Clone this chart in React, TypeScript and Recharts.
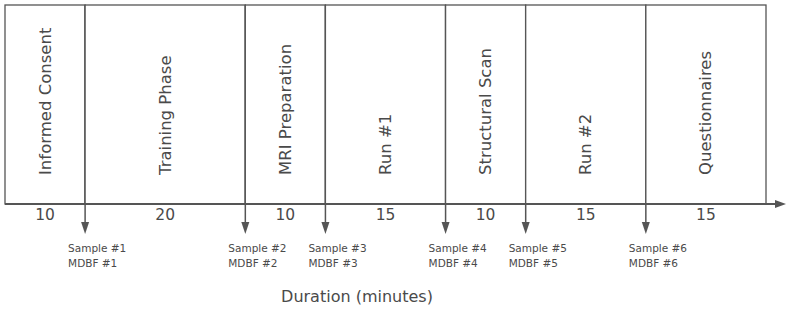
import { Bar, BarChart, XAxis, YAxis } from "recharts";

// session timeline: each phase is one stacked segment, length = minutes
const phases = [
  "Informed Consent",
  "Training Phase",
  "MRI Preparation",
  "Run #1",
  "Structural Scan",
  "Run #2",
  "Questionnaires",
];
const durations = [10, 20, 10, 15, 10, 15, 15];
const sampleLabels = ["Sample #1", "Sample #2", "Sample #3", "Sample #4", "Sample #5", "Sample #6"];
const mdbfLabels = ["MDBF #1", "MDBF #2", "MDBF #3", "MDBF #4", "MDBF #5", "MDBF #6"];

const row: Record<string, string | number> = { name: "session" };
durations.forEach((d, i) => {
  row[`p${i}`] = d;
});
const data = [row];
const total = durations.reduce((a, b) => a + b, 0);

const LINE = "#555555";
const TEXT = "#4a4a4a";
const FONT = "'DejaVu Sans', Verdana, sans-serif";

const makeShape = (i: number) => (props: any) => {
  const { x, y, width, height } = props;
  const cx = x + width / 2;
  const bottom = y + height;
  const right = x + width;
  const ly = bottom - 29; // labels read upward from near the bottom
  const last = i === phases.length - 1;
  return (
    <g>
      <rect x={x} y={y} width={width} height={height} fill="#fff" stroke={LINE} strokeWidth={1.3} />
      <text
        x={cx}
        y={ly}
        transform={`rotate(-90, ${cx}, ${ly})`}
        textAnchor="start"
        dominantBaseline="central"
        fontFamily={FONT}
        fontSize={16.5}
        fill={TEXT}
      >
        {phases[i]}
      </text>
      <line x1={x} y1={bottom} x2={right} y2={bottom} stroke={LINE} strokeWidth={2} />
      <text x={cx} y={bottom + 16} textAnchor="middle" fontFamily={FONT} fontSize={15.5} fill={TEXT}>
        {durations[i]}
      </text>
      {!last && (
        <g>
          <line x1={right} y1={y} x2={right} y2={bottom + 22} stroke={LINE} strokeWidth={1.5} />
          <polygon
            points={`${right - 4},${bottom + 18} ${right + 4},${bottom + 18} ${right},${bottom + 30}`}
            fill={LINE}
          />
          <text x={right - 17} y={bottom + 48} fontFamily={FONT} fontSize={10.5} fill={TEXT}>
            {sampleLabels[i]}
          </text>
          <text x={right - 17} y={bottom + 63} fontFamily={FONT} fontSize={10.5} fill={TEXT}>
            {mdbfLabels[i]}
          </text>
        </g>
      )}
      {last && (
        <g>
          <line x1={right} y1={bottom} x2={right + 12} y2={bottom} stroke={LINE} strokeWidth={2} />
          <polygon
            points={`${right + 9},${bottom - 4} ${right + 20},${bottom} ${right + 9},${bottom + 4}`}
            fill={LINE}
          />
        </g>
      )}
    </g>
  );
};

const App = () => {
  return (
    <div style={{ position: "absolute", left: 0, top: 0 }}>
      <BarChart
        width={787}
        height={309}
        data={data}
        layout="vertical"
        barCategoryGap={0}
        barGap={0}
        margin={{ top: 5, right: 21, bottom: 105, left: 5 }}
      >
        <XAxis type="number" domain={[0, total]} hide />
        <YAxis type="category" dataKey="name" hide />
        {durations.map((_, i) => (
          <Bar
            key={i}
            dataKey={`p${i}`}
            stackId="t"
            isAnimationActive={false}
            shape={makeShape(i)}
          />
        ))}
      </BarChart>
      <div
        style={{
          position: "absolute",
          left: 0,
          top: 287,
          width: 714,
          textAlign: "center",
          fontFamily: FONT,
          fontSize: 16,
          color: TEXT,
        }}
      >
        Duration (minutes)
      </div>
    </div>
  );
};

export default App;
